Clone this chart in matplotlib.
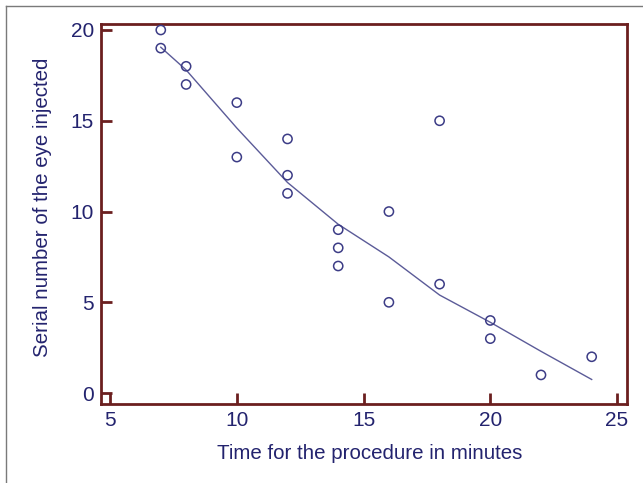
import matplotlib
matplotlib.use("Agg")
import matplotlib.pyplot as plt
from matplotlib.lines import Line2D

plt.rcParams['font.family'] = ['Liberation Sans', 'DejaVu Sans']

# observed points
time_min = [7, 7, 8, 8, 10, 10, 12, 12, 12, 14, 14, 14, 16, 16, 18, 18, 20, 20, 22, 24]
eye_no = [20, 19, 18, 17, 16, 13, 14, 12, 11, 9, 8, 7, 10, 5, 15, 6, 4, 3, 1, 2]

# smoothed trend line
fit_x = [7, 8, 10, 12, 14, 16, 18, 20, 22, 24]
fit_y = [19.05, 17.8, 14.6, 11.6, 9.3, 7.5, 5.4, 3.9, 2.3, 0.75]

xticks = [5, 10, 15, 20, 25]
yticks = [0, 5, 10, 15, 20]

frame_col = '#6b1f1f'
text_col = '#23236e'

fig = plt.figure(figsize=(6.43, 4.83), dpi=100)
ax = fig.add_axes([0.157, 0.1636, 0.818, 0.7867])

ax.plot(fit_x, fit_y, color='#5b5b98', lw=1.0)
ax.scatter(time_min, eye_no, s=44, facecolors='none', edgecolors='#3c3c86',
           linewidths=1.1, zorder=3)

ax.set_xlim(4.64, 25.39)
ax.set_ylim(-0.6, 20.33)
ax.set_xticks(xticks)
ax.set_yticks(yticks)

for sp in ax.spines.values():
    sp.set_color(frame_col)
    sp.set_linewidth(2)
ax.tick_params(direction='in', length=8, width=2, color=frame_col,
               labelcolor=text_col, labelsize=15, pad=5)

ax.set_xlabel('Time for the procedure in minutes', fontsize=14.8,
              color=text_col)
ax.set_ylabel('Serial number of the eye injected', fontsize=14.8,
              color=text_col)
ax.xaxis.set_label_coords(0.51, -0.106)
ax.yaxis.set_label_coords(-0.093, 0.518)

# thin grey frame on the left and top of the picture
fig.add_artist(Line2D([0.01, 0.01], [0.0, 0.988], transform=fig.transFigure,
                      color='#7a7a7a', lw=1))
fig.add_artist(Line2D([0.01, 1.0], [0.988, 0.988], transform=fig.transFigure,
                      color='#7a7a7a', lw=1))

fig.savefig('out.png', dpi=100)
